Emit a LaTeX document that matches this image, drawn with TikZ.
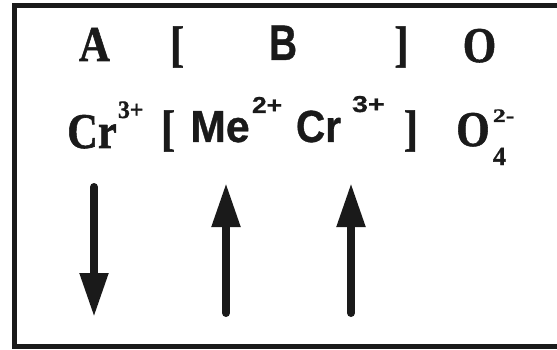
\documentclass[tikz,border=0pt]{standalone}
\usepackage{fontspec}
\setmainfont{Liberation Serif}[BoldFeatures={FakeBold=1.2}]
\newfontfamily\sansb{Liberation Sans}[BoldFeatures={FakeBold=0.8}]
\usetikzlibrary{arrows.meta}
\definecolor{ink}{HTML}{1A1A1A}
\newcommand{\serf}[1]{\fontsize{#1}{#1}\selectfont\bfseries}
\newcommand{\sanf}[1]{\fontsize{#1}{#1}\sansb\bfseries}
\begin{document}
\begin{tikzpicture}[x=1pt,y=-1pt,
  txt/.style={inner sep=0pt, outer sep=0pt, text=ink},
  spin/.style={draw=ink, line width=8pt, line cap=round, -{Triangle[length=44pt,width=27pt]}},
  frame/.style={draw=ink, line width=5pt}]
\useasboundingbox (0,0) rectangle (557,350);
% frame
\draw[frame] (557,6) -- (14,6) -- (14,346) -- (557,346);
% row 1
\node[txt,anchor=base] (A)   at (94.5,61) {\scalebox{0.86}[1]{\serf{50}A}};
\node[txt,anchor=base] (lb1) at (177,61)  {\scalebox{0.86}[1]{\serf{50}[}};
\node[txt,anchor=base] (B)   at (283,60)  {\scalebox{0.78}[1]{\sanf{50}B}};
\node[txt,anchor=base] (rb1) at (401.5,61){\scalebox{0.86}[1]{\serf{50}]}};
\node[txt,anchor=base] (O1)  at (479.5,62){\scalebox{0.86}[1]{\serf{50}O}};
% row 2
\node[txt,anchor=base] (Cr1) at (92,148)  {\scalebox{0.85}[1]{\serf{50}Cr}};
\node[txt,anchor=base west] (s1) at (118,118) {\scalebox{0.95}[1]{\serf{25}3+}};
\node[txt,anchor=base] (lb2) at (168,145) {\scalebox{0.86}[1]{\serf{50}[}};
\node[txt,anchor=base] (Me)  at (220,142) {\scalebox{0.95}[1]{\sanf{45}Me}};
\node[txt,anchor=base west] (s2) at (252,113) {\scalebox{1.15}[1]{\sanf{23}2+}};
\node[txt,anchor=base] (Cr2) at (318.5,142) {\scalebox{0.9}[1]{\sanf{45}Cr}};
\node[txt,anchor=base west] (s3) at (352,112) {\scalebox{1.25}[1]{\sanf{23}3+}};
\node[txt,anchor=base] (rb2) at (411,145) {\scalebox{0.86}[1]{\serf{50}]}};
\node[txt,anchor=base] (O2)  at (473,146) {\scalebox{0.86}[1]{\serf{50}O}};
\node[txt,anchor=base west] (s4) at (493,122) {\scalebox{1.35}[1]{\serf{19}2-}};
\node[txt,anchor=base west] (s5) at (493,165) {\serf{26}4};
% spin arrows
\coordinate (a1s) at (94,187);  \coordinate (a1e) at (94,317);
\coordinate (a2s) at (226,313); \coordinate (a2e) at (226,183);
\coordinate (a3s) at (351,313); \coordinate (a3e) at (351,183);
\draw[spin] (a1s) -- (a1e);
\draw[spin] (a2s) -- (a2e);
\draw[spin] (a3s) -- (a3e);
\end{tikzpicture}
\end{document}
